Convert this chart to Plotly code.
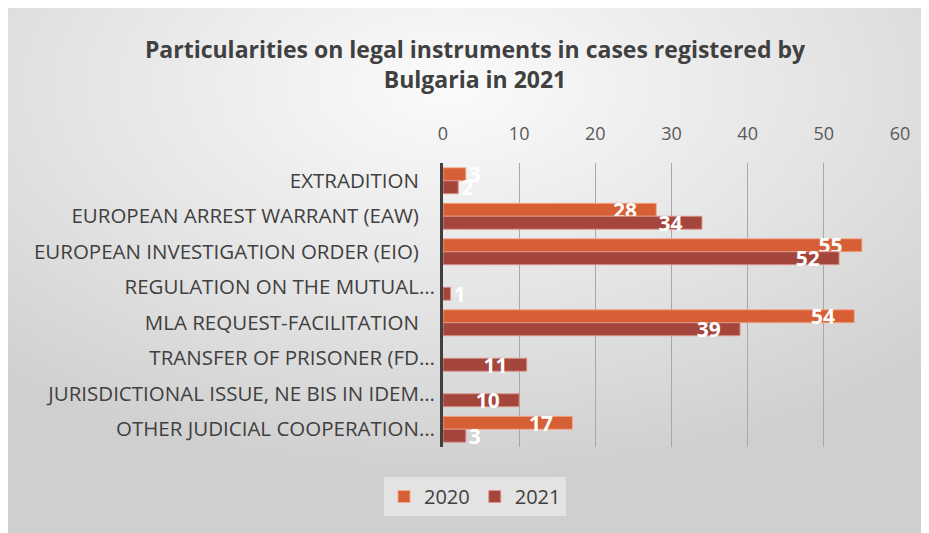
import base64
import plotly.graph_objects as go

categories = [
    "EXTRADITION",
    "EUROPEAN ARREST WARRANT (EAW)",
    "EUROPEAN INVESTIGATION ORDER (EIO)",
    "REGULATION ON THE MUTUAL…",
    "MLA REQUEST-FACILITATION",
    "TRANSFER OF PRISONER (FD…",
    "JURISDICTIONAL ISSUE, NE BIS IN IDEM…",
    "OTHER JUDICIAL COOPERATION…",
]
values_2020 = [3, 28, 55, None, 54, None, None, 17]
values_2021 = [2, 34, 52, 1, 39, 11, 10, 3]
x_ticks = [0, 10, 20, 30, 40, 50, 60]

# the page body has an 8px margin, so the figure is drawn from (8, 8)
W, H = 921, 525
L, R, T, B = 435, 29, 155, 86
PW, PH = W - L - R, H - T - B
PAD = "\u00a0" * 3


def tick_text(c):
    return c if c.endswith("…") else c + "\u00a0" * 3


def labels(vals):
    return [None if v is None else (f"{v}{PAD}" if v >= 10 else f"{v}") for v in vals]


def positions(vals):
    return ["inside" if (v is not None and v >= 10) else "outside" for v in vals]


svg = f'''<svg xmlns="http://www.w3.org/2000/svg" width="{W}" height="{H}" preserveAspectRatio="none">
<defs><radialGradient id="g" cx="0.48" cy="0.15" r="0.75">
<stop offset="0" stop-color="#fbfbfb"/><stop offset="0.55" stop-color="#e4e4e4"/><stop offset="1" stop-color="#cfcfcf"/>
</radialGradient></defs>
<rect width="100%" height="100%" fill="url(#g)"/></svg>'''
bg_src = "data:image/svg+xml;base64," + base64.b64encode(svg.encode()).decode()

fig = go.Figure()
for name, vals, color, line in [
    ("2020", values_2020, "#D65F36", "rgba(245,170,140,0.9)"),
    ("2021", values_2021, "#A5463D", "rgba(220,150,140,0.9)"),
]:
    fig.add_trace(go.Bar(
        y=categories, x=vals, name=name, orientation="h",
        marker=dict(color=color, line=dict(color=line, width=1)),
        text=labels(vals), textposition=positions(vals),
        insidetextanchor="end", constraintext="none", textangle=0,
        textfont=dict(family="Open Sans", size=21, color="white", weight="bold"),
        cliponaxis=False,
    ))

fig.update_layout(
    width=W, height=H,
    paper_bgcolor="white", plot_bgcolor="rgba(0,0,0,0)",
    margin=dict(l=L, r=R, t=T, b=B, autoexpand=False),
    barmode="group", bargap=0.27, bargroupgap=0,
    title=dict(
        text="Particularities on legal instruments in cases registered by<br>Bulgaria in 2021",
        x=467 / W, xanchor="center", y=1 - 50 / H, yanchor="middle",
        font=dict(family="Open Sans", size=23, color="#404040", weight="bold"),
    ),
    font=dict(family="Open Sans", color="#404040"),
    legend=dict(
        orientation="h", x=(467 - L) / PW, xanchor="center", y=-(469 - (T + PH)) / PH, yanchor="top",
        bgcolor="#e3e3e3", font=dict(size=20, color="#404040"),
        itemwidth=30, traceorder="normal",
    ),
    images=[dict(
        source=bg_src, xref="paper", yref="paper",
        x=-L / PW, y=1 + T / PH, sizex=W / PW, sizey=H / PH,
        xanchor="left", yanchor="top", sizing="stretch", layer="below",
    )],
)
fig.update_xaxes(
    side="top", range=[0, 60], tickvals=x_ticks, ticktext=[str(t) for t in x_ticks],
    showgrid=True, gridcolor="#a8a8a8", gridwidth=1, automargin=False,
    zeroline=False, showline=False, ticks="",
    tickfont=dict(size=18, color="#595959"), ticklabelstandoff=18,
)
fig.update_yaxes(
    autorange="reversed", tickvals=categories, ticktext=[tick_text(c) for c in categories],
    showline=True, linecolor="#404040", linewidth=3, ticks="", automargin=False,
    tickfont=dict(size=20.5, color="#404040"), ticklabelstandoff=1,
)
fig.write_html("out.html")
